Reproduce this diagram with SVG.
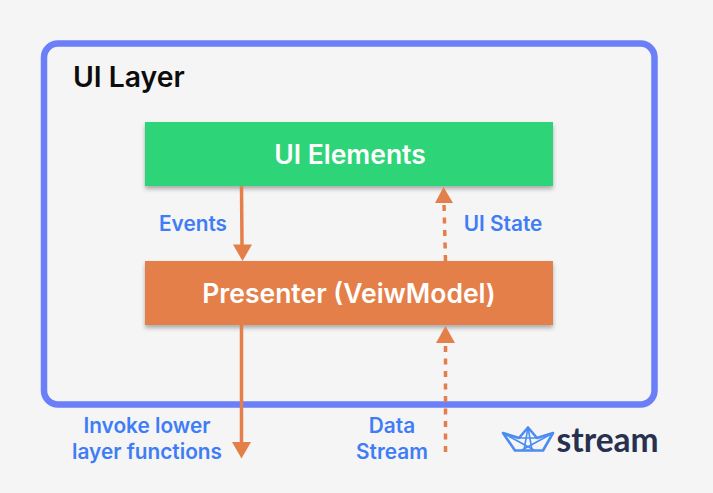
<svg xmlns="http://www.w3.org/2000/svg" width="713" height="493" viewBox="0 0 713 493">
<defs>
<filter id="sh" x="-5%" y="-20%" width="110%" height="150%"><feDropShadow dx="0" dy="3" stdDeviation="2" flood-color="#000" flood-opacity="0.3"/></filter>
</defs>
<style>
text{font-family:Inter,"Liberation Sans",sans-serif;}
.lbl{font-size:20.800px;font-weight:600;fill:#3f7df6;text-anchor:middle;}
.nt{font-size:26.500px;font-weight:600;fill:#fff;text-anchor:middle;}
.conn{stroke:#e57f49;stroke-width:3.500;fill:none;}
.dash{stroke-dasharray:6 6.500;}
.head{fill:#e57f49;}
.bs{stroke:#4a8cf0;stroke-width:2.600;fill:none;stroke-linejoin:round;}
.bt{stroke:#4a8cf0;stroke-width:1.600;fill:none;}
</style>
<rect width="713" height="493" fill="#f5f5f5"/>
<g id="ui-layer">
<rect x="44" y="43.500" width="610.500" height="361" rx="14" fill="none" stroke="#6b7ff8" stroke-width="6.500"/>
<text x="73" y="87" font-size="28.300" font-weight="600" fill="#0c0c0c">UI Layer</text>
</g>
<g id="ui-elements">
<rect x="145" y="122" width="408" height="64" fill="#2fd578" filter="url(#sh)"/>
<text class="nt" x="350" y="164">UI Elements</text>
</g>
<g id="presenter">
<rect x="145" y="261" width="408" height="64" fill="#e57f49" filter="url(#sh)"/>
<text class="nt" x="349" y="303">Presenter (VeiwModel)</text>
</g>
<g id="connectors">
<path class="conn" d="M241.500 186L242 245"/>
<path class="head" d="M233 244.500H252L242.500 261Z"/>
<path class="conn dash" d="M445.500 261L444 203"/>
<path class="head" d="M435 203L443.500 187L453 203Z"/>
<path class="conn" d="M241.500 325L241.500 443"/>
<path class="head" d="M232 442H251L241.500 458.500Z"/>
<path class="conn dash" d="M445.500 452L445.500 343"/>
<path class="head" d="M436 343L445.500 326L455 343Z"/>
</g>
<g id="labels">
<text class="lbl" x="193" y="231">Events</text>
<text class="lbl" x="503" y="231">UI State</text>
<text class="lbl" x="147" y="433">Invoke lower</text>
<text class="lbl" x="147" y="459">layer functions</text>
<text class="lbl" x="392" y="433">Data</text>
<text class="lbl" x="392" y="459">Stream</text>
</g>
<g id="stream-logo">
<path class="bs" d="M503 433L519 438L528 427.500L537 438L553 433L543 450.500H515Z"/>
<path class="bt" d="M528 427.500L524 450M528 427.500L532 450M503 433L534 450M553 433L522 450M519 438H537"/>
<text x="556.500" y="451.500" font-size="33.500" font-weight="700" fill="#27304f" style="font-family:Lato,'Liberation Sans',sans-serif">stream</text>
</g>
</svg>
